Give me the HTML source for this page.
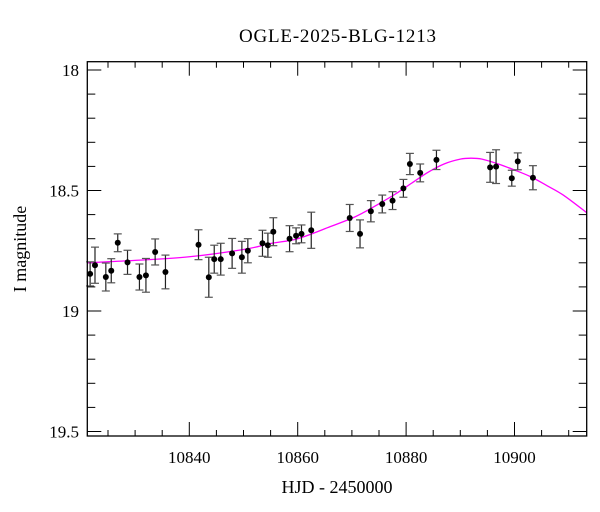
<!DOCTYPE html>
<html><head><meta charset="utf-8"><style>
html,body{margin:0;padding:0;background:#fff}
svg{display:block}
text{font-family:"Liberation Serif",serif;fill:#000}
</style></head><body>
<svg id="chart" width="600" height="512" viewBox="0 0 600 512" xmlns="http://www.w3.org/2000/svg">
<text x="337.5" y="42" font-size="19" text-anchor="middle" textLength="197">OGLE-2025-BLG-1213</text>
<text x="337" y="493" font-size="18" text-anchor="middle">HJD - 2450000</text>
<text x="26" y="249" font-size="18" text-anchor="middle" transform="rotate(-90 26 249)">I magnitude</text>
<g id="axes"></g>
<g id="model"></g>
<g id="pts"></g>
<rect x="87.3" y="61.7" width="499.4" height="374.3" fill="none" stroke="#000" stroke-width="1.3"/>
</svg>
<script>
const hjd=[10821.7,10822.6,10824.6,10825.6,10826.8,10828.6,10830.8,10832.0,10833.7,10835.6,10841.7,10843.6,10844.6,10845.8,10847.9,10849.7,10850.8,10853.5,10854.5,10855.5,10858.5,10859.7,10860.7,10862.5,10869.6,10871.5,10873.5,10875.6,10877.5,10879.5,10880.7,10882.6,10885.6,10895.5,10896.6,10899.5,10900.6,10903.4];
const mag=[18.846,18.810,18.859,18.833,18.717,18.798,18.859,18.852,18.755,18.838,18.725,18.860,18.785,18.785,18.761,18.777,18.750,18.719,18.727,18.671,18.700,18.688,18.680,18.665,18.614,18.680,18.586,18.556,18.542,18.491,18.390,18.427,18.373,18.404,18.401,18.449,18.379,18.447];
const magErr=[0.05,0.075,0.058,0.05,0.037,0.05,0.054,0.07,0.054,0.07,0.062,0.083,0.058,0.066,0.062,0.066,0.05,0.054,0.05,0.058,0.054,0.033,0.037,0.075,0.056,0.058,0.044,0.037,0.037,0.037,0.044,0.037,0.04,0.062,0.07,0.033,0.035,0.05];
const modelT=[10821,10830,10840,10850,10855,10860,10866,10870,10872,10875,10878,10881,10884,10887,10890,10892,10894,10897,10900,10903,10906,10909,10913.5];
const modelMag=[18.80,18.79,18.775,18.745,18.72,18.70,18.65,18.615,18.593,18.555,18.515,18.47,18.425,18.39,18.37,18.366,18.37,18.39,18.415,18.443,18.48,18.519,18.595];
const xMajor=[10840,10860,10880,10900];
const yMajor=[18,18.5,19,19.5];
const yLabels=["18","18.5","19","19.5"];

const L=87.3,R=586.7,T=61.7,B=436;
const X=t=>189.3+(t-10840)*5.42;
const Y=m=>70+(m-18)*241;
const NS="http://www.w3.org/2000/svg";
function mk(tag,attrs,parent){const e=document.createElementNS(NS,tag);for(const k in attrs)e.setAttribute(k,attrs[k]);parent.appendChild(e);return e;}
const ax=document.getElementById('axes');
// x ticks
for(let t=10825;t<=10913;t+=5){
  const major=(t%20===0);const len=major?14:6;const x=X(t);
  const a=mk('line',{x1:x,x2:x,y1:B,y2:B-len,stroke:'#000','stroke-width':1},ax);
  
  
  const b=mk('line',{x1:x,x2:x,y1:T,y2:T+len,stroke:'#000','stroke-width':1},ax);
  
  
}
xMajor.forEach(t=>{
  const tx=mk('text',{x:X(t),y:463,'font-size':17,'text-anchor':'middle'},ax);
  tx.textContent=t;
  
  
});
// y ticks
for(let i=0;i<=15;i++){
  const m=18+i*0.1;const major=(i%5===0);const len=major?14:8;const y=Y(m);
  const a=mk('line',{x1:L,x2:L+len,y1:y,y2:y,stroke:'#000','stroke-width':1},ax);
  
  
  const b=mk('line',{x1:R,x2:R-len,y1:y,y2:y,stroke:'#000','stroke-width':1},ax);
  
  
}
yMajor.forEach((m,i)=>{
  const tx=mk('text',{x:79,y:Y(m)+6,'font-size':17,'text-anchor':'end'},ax);
  tx.textContent=yLabels[i];
  
  
});
// model curve (Catmull-Rom)
const pts=modelT.map((t,i)=>[X(t),Y(modelMag[i])]);
let d=`M${pts[0][0]},${pts[0][1]}`;
for(let i=0;i<pts.length-1;i++){
  const p0=pts[Math.max(0,i-1)],p1=pts[i],p2=pts[i+1],p3=pts[Math.min(pts.length-1,i+2)];
  const c1=[p1[0]+(p2[0]-p0[0])/6,p1[1]+(p2[1]-p0[1])/6];
  const c2=[p2[0]-(p3[0]-p1[0])/6,p2[1]-(p3[1]-p1[1])/6];
  d+=` C${c1[0]},${c1[1]} ${c2[0]},${c2[1]} ${p2[0]},${p2[1]}`;
}
const cp=mk('clipPath',{id:'clip'},document.getElementById('chart'));
mk('rect',{x:L,y:T,width:R-L,height:B-T},cp);
const ml=mk('path',{d:d,fill:'none',stroke:'#ff00ff','stroke-width':1.3,'clip-path':'url(#clip)'},document.getElementById('model'));


// data
const pg=document.getElementById('pts');
hjd.forEach((t,i)=>{
  const x=X(t),y=Y(mag[i]),e=magErr[i]*241;
  const g=mk('g',{},pg);
  
  
  mk('line',{x1:x,x2:x,y1:y-e,y2:y+e,stroke:'#222','stroke-width':1.2},g);
  mk('line',{x1:x-4,x2:x+4,y1:y-e,y2:y-e,stroke:'#555','stroke-width':1.2},g);
  mk('line',{x1:x-4,x2:x+4,y1:y+e,y2:y+e,stroke:'#555','stroke-width':1.2},g);
  mk('circle',{cx:x,cy:y,r:3,fill:'#000'},g);
});
</script>
</body></html>
